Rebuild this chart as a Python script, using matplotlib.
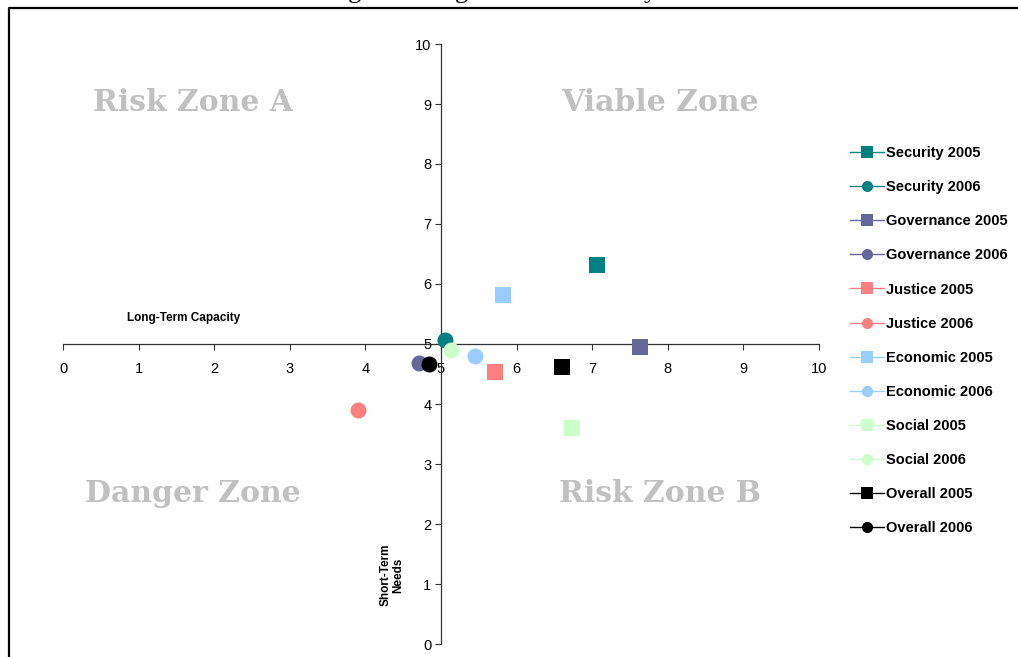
import matplotlib
matplotlib.use("Agg")
import matplotlib.pyplot as plt
from matplotlib.lines import Line2D

series_names = ["Security 2005", "Security 2006", "Governance 2005", "Governance 2006",
                "Justice 2005", "Justice 2006", "Economic 2005", "Economic 2006",
                "Social 2005", "Social 2006", "Overall 2005", "Overall 2006"]
long_term = [7.06, 5.05, 7.63, 4.71, 5.71, 3.90, 5.82, 5.45, 6.73, 5.13, 6.60, 4.84]
short_term = [6.32, 5.07, 4.95, 4.68, 4.53, 3.90, 5.82, 4.80, 3.60, 4.90, 4.62, 4.67]
colors = ["#008080", "#008080", "#666699", "#666699", "#FF8080", "#FF8080",
          "#99CCFF", "#99CCFF", "#CCFFCC", "#CCFFCC", "#000000", "#000000"]
markers = ["s", "o"] * 6
ticks = list(range(0, 11))
zones = ["Risk Zone A", "Viable Zone", "Danger Zone", "Risk Zone B"]

plt.rcParams["font.family"] = ["Liberation Sans", "DejaVu Sans"]

W, H = 1018, 657
fig = plt.figure(figsize=(W / 100, H / 100), dpi=100)
ax = fig.add_axes([63 / W, 1 - 644 / H, (819 - 63) / W, (644 - 44) / H])
ax.set_xlim(0, 10)
ax.set_ylim(0, 10)

for name, x, y, c, m in zip(series_names, long_term, short_term, colors, markers):
    ax.plot([x], [y], marker=m, linestyle="-", color=c, markersize=11.5,
            markeredgewidth=0, linewidth=1, label=name, zorder=3)

ax.spines["left"].set_position(("data", 5))
ax.spines["bottom"].set_position(("data", 5))
ax.spines["top"].set_visible(False)
ax.spines["right"].set_visible(False)
for s in ("left", "bottom"):
    ax.spines[s].set_color("#333333")
    ax.spines[s].set_linewidth(0.9)
ax.set_xticks(ticks)
ax.set_yticks(ticks)
ax.tick_params(axis="both", direction="out", length=4, width=0.8, color="#333333",
               labelsize=10.5)
ax.tick_params(axis="x", pad=9)
ax.tick_params(axis="y", pad=3)

zone_pos = [(1.72, 9.03), (7.9, 9.03), (1.72, 2.5), (7.9, 2.5)]
for z, (zx, zy) in zip(zones, zone_pos):
    ax.text(zx, zy, z, ha="center", va="center", fontsize=21.5, fontweight="heavy",
            family="DejaVu Serif", color="#C0C0C0")

ax.text(1.59, 5.43, "Long-Term Capacity", ha="center", va="center", fontsize=8.5,
        fontweight="bold")
ax.text(4.35, 1.15, "Short-Term\nNeeds", ha="center", va="center", fontsize=8.5,
        fontweight="bold", rotation=90, linespacing=1.0)

leg = ax.legend(loc="upper left", bbox_to_anchor=(850 / W, 1 - 146 / H),
                bbox_transform=fig.transFigure, frameon=False,
                prop={"size": 10.5, "weight": "bold"}, labelspacing=1.38,
                handlelength=2.3, handletextpad=0.15, borderaxespad=0, borderpad=0)
for h in leg.legend_handles:
    h.set_markersize(8)

# frame lines
fig.add_artist(Line2D([9 / W, 9 / W, 1.0], [0, 1 - 8 / H, 1 - 8 / H],
                      transform=fig.transFigure, color="black", linewidth=1.6))
# title, clipped at the top edge as in the reference
fig.text(520 / W, 1 + 2 / H, "Figure 5: Afghan Interviews by Area", ha="center",
         va="baseline", fontsize=19, family="Liberation Serif")

fig.savefig("out.png", dpi=100)
